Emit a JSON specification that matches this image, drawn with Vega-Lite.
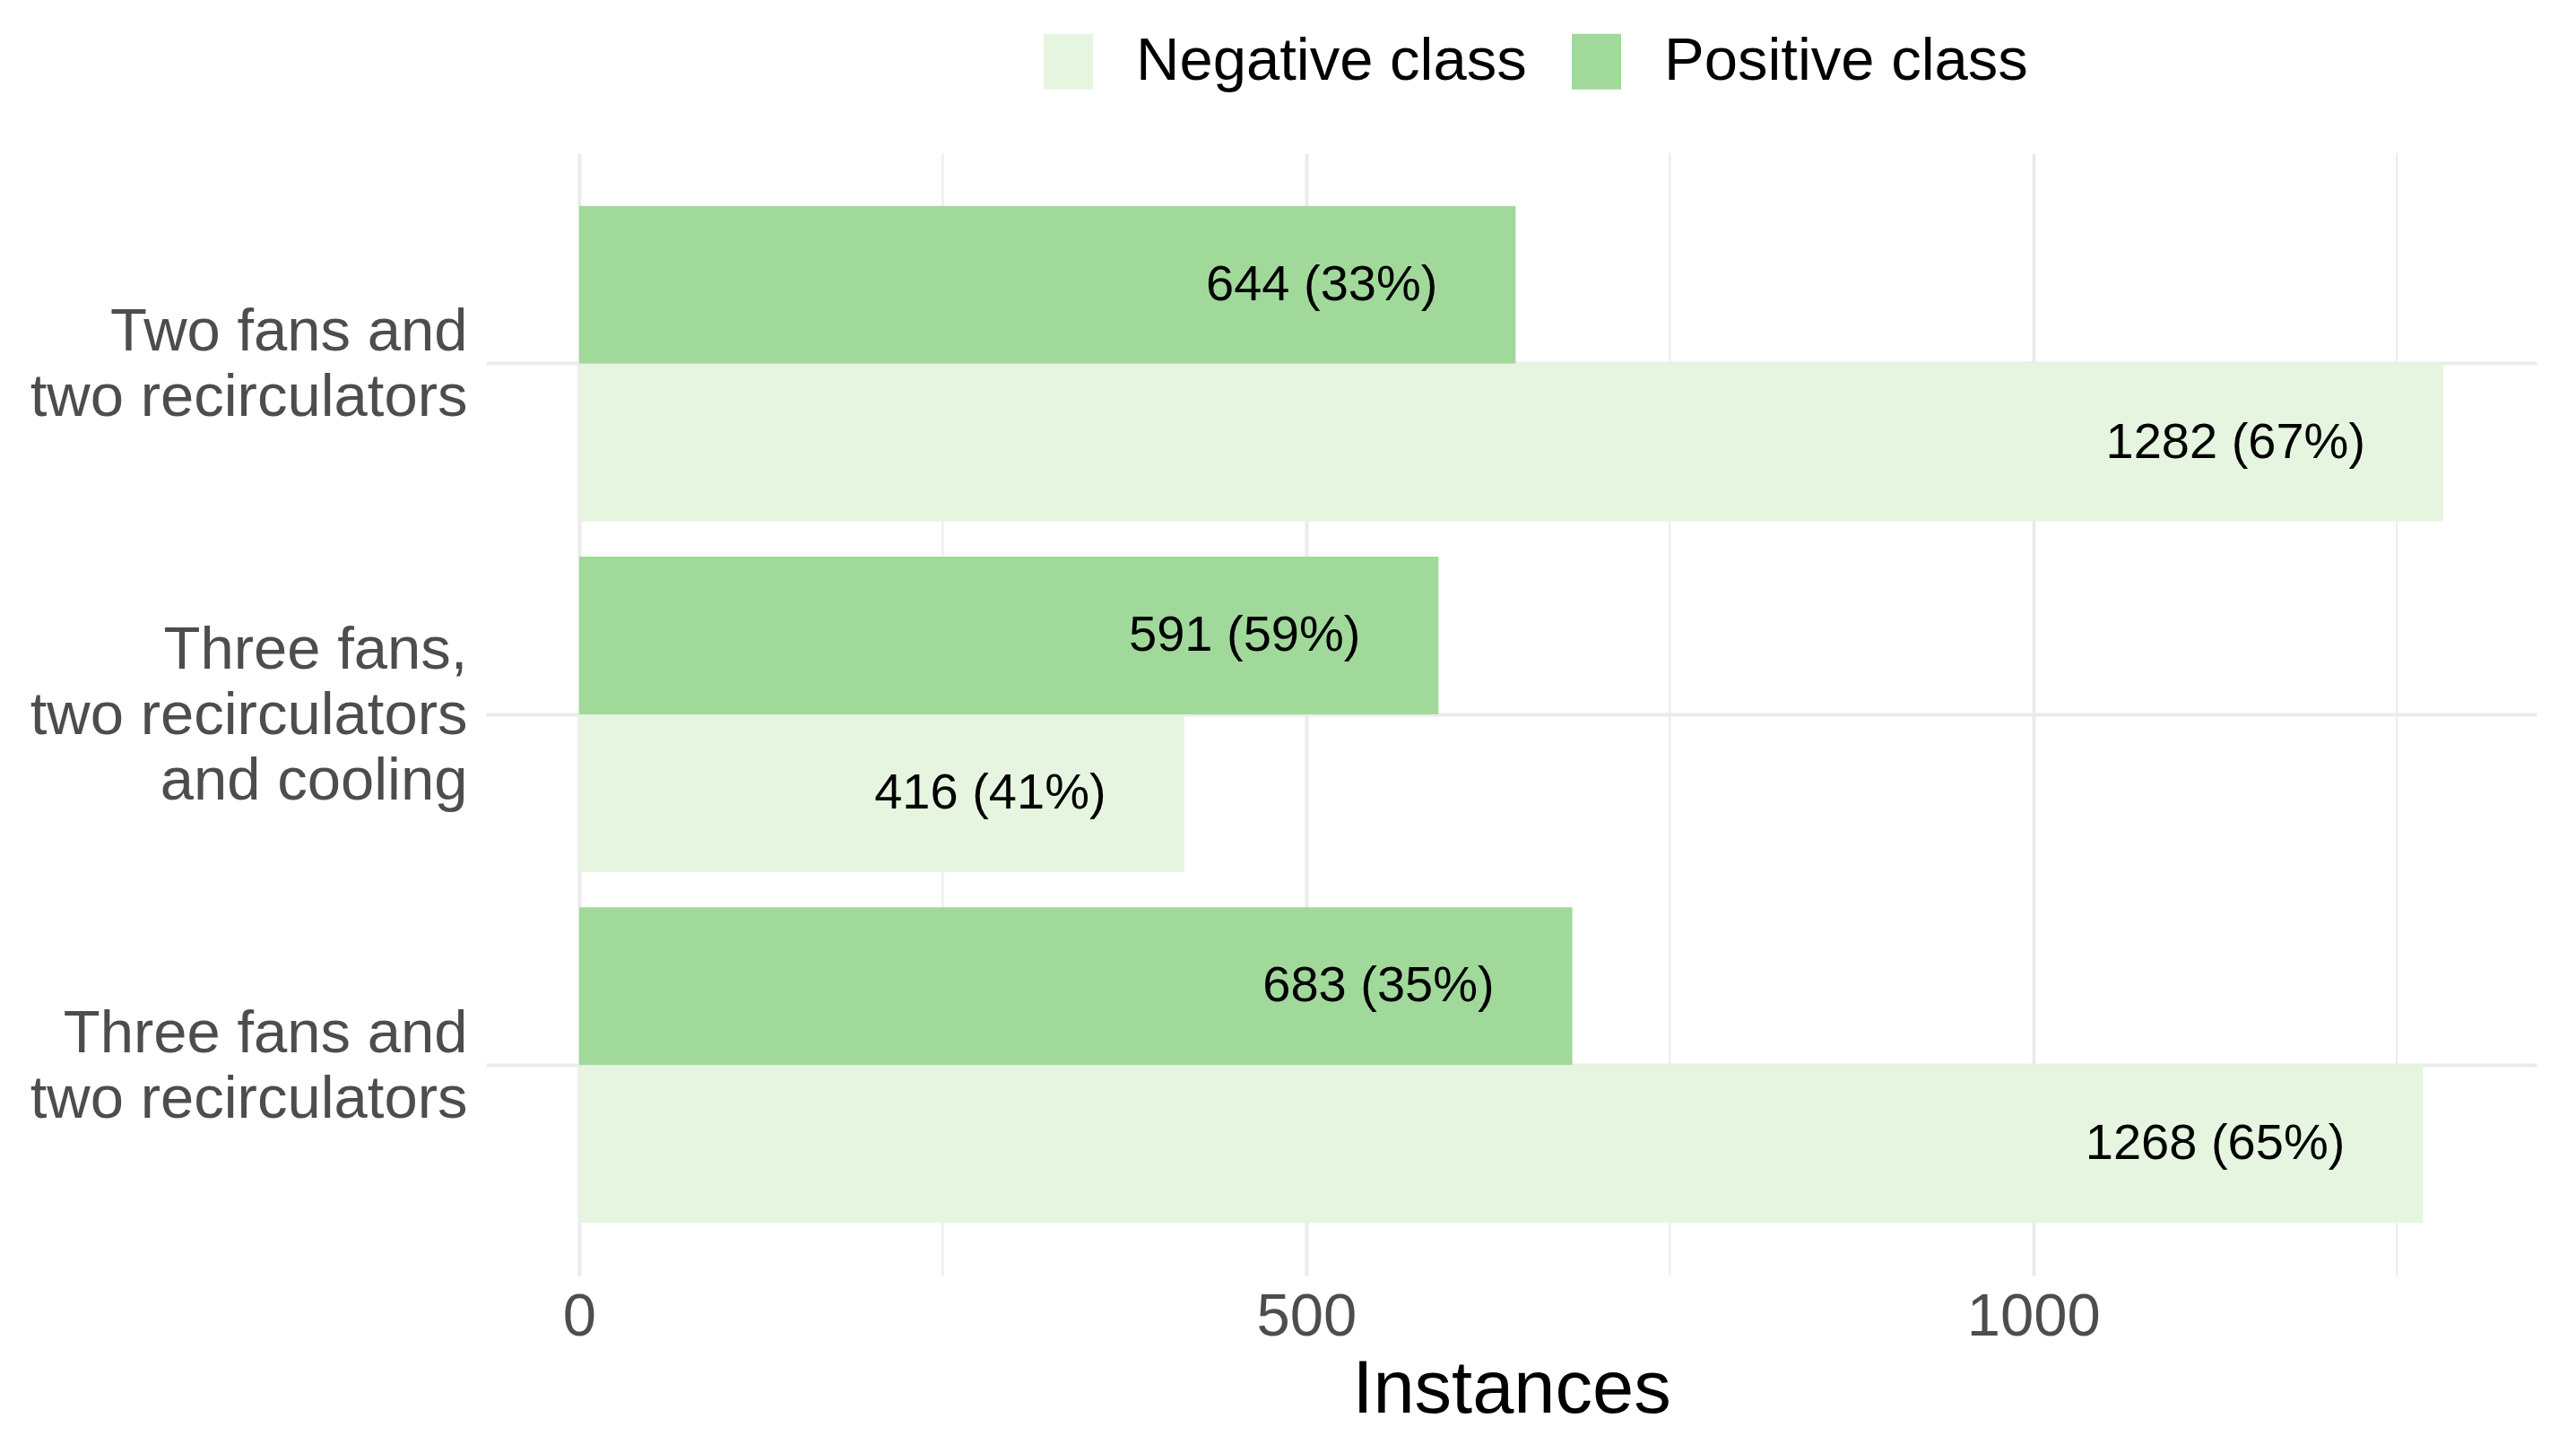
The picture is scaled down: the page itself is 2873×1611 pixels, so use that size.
{
  "$schema": "https://vega.github.io/schema/vega-lite/v6.json",
  "autosize": "none",
  "width": 2287,
  "height": 1252,
  "padding": {"left": 542, "top": 171, "right": 44, "bottom": 188},
  "background": "white",
  "config": {
    "view": {"stroke": null},
    "font": "Liberation Sans",
    "axis": {"labelFont": "Liberation Sans", "titleFont": "Liberation Sans"},
    "legend": {"labelFont": "Liberation Sans"}
  },
  "data": {
    "values": [
      {"group": "Two fans and|two recirculators", "cls": "Positive class", "n": 644, "label": "644 (33%)"},
      {"group": "Two fans and|two recirculators", "cls": "Negative class", "n": 1282, "label": "1282 (67%)"},
      {"group": "Three fans,|two recirculators|and cooling", "cls": "Positive class", "n": 591, "label": "591 (59%)"},
      {"group": "Three fans,|two recirculators|and cooling", "cls": "Negative class", "n": 416, "label": "416 (41%)"},
      {"group": "Three fans and|two recirculators", "cls": "Positive class", "n": 683, "label": "683 (35%)"},
      {"group": "Three fans and|two recirculators", "cls": "Negative class", "n": 1268, "label": "1268 (65%)"}
    ]
  },
  "encoding": {
    "y": {
      "field": "group",
      "type": "nominal",
      "sort": ["Two fans and|two recirculators", "Three fans,|two recirculators|and cooling", "Three fans and|two recirculators"],
      "scale": {"paddingInner": 0.1, "paddingOuter": 0.15},
      "axis": {
        "title": null,
        "domain": false,
        "ticks": false,
        "tickSize": 0,
        "labelPadding": 21,
        "labelFontSize": 67,
        "labelColor": "#4D4D4D",
        "labelLineHeight": 73,
        "labelLimit": 0,
        "labelExpr": "split(datum.label, '|')",
        "labelAlign": "right",
        "labelBaseline": "middle",
        "labelOffset": {"condition": {"test": "indexof(datum.value, 'cooling') >= 0", "value": -71}, "value": -34.5},
        "grid": true,
        "gridColor": "#EBEBEB",
        "gridWidth": 4,
        "bandPosition": 0.5
      }
    },
    "yOffset": {
      "field": "cls",
      "type": "nominal",
      "sort": ["Positive class", "Negative class"],
      "scale": {"paddingInner": 0, "paddingOuter": 0}
    }
  },
  "layer": [
    {
      "mark": {"type": "rule"},
      "data": {"values": [{"v": 250}, {"v": 750}, {"v": 1250}]},
      "encoding": {
        "x": {"field": "v", "type": "quantitative", "scale": {"domain": [-64.1, 1346.1], "nice": false, "zero": false}},
        "y": {"value": 0},
        "y2": {"value": 1252},
        "yOffset": null,
        "color": {"value": "#EBEBEB"},
        "strokeWidth": {"value": 2}
      }
    },
    {
      "mark": {"type": "bar"},
      "encoding": {
        "x": {
          "field": "n",
          "type": "quantitative",
          "scale": {"domain": [-64.1, 1346.1], "nice": false, "zero": false},
          "axis": {
            "title": "Instances",
            "titleFontSize": 83,
            "titleFontWeight": "normal",
            "titleColor": "black",
            "titlePadding": 7,
            "values": [0, 500, 1000],
            "format": "d",
            "domain": false,
            "ticks": false,
            "tickSize": 0,
            "labelPadding": 13,
            "labelFontSize": 67,
            "labelColor": "#4D4D4D",
            "grid": true,
            "gridColor": "#EBEBEB",
            "gridWidth": 4
          }
        },
        "x2": {"datum": 0},
        "color": {
          "field": "cls",
          "type": "nominal",
          "scale": {"domain": ["Negative class", "Positive class"], "range": ["#E5F5E0", "#A1D99B"]},
          "legend": {
            "title": null,
            "orient": "none",
            "direction": "horizontal",
            "legendX": 616,
            "legendY": -136,
            "padding": 0,
            "symbolType": "M-0.887,-1H0.887V1H-0.887Z",
            "symbolSize": 3844,
            "symbolStrokeWidth": 0,
            "labelFontSize": 67,
            "labelLimit": 0,
            "labelColor": "black",
            "labelOffset": 42,
            "columnPadding": 44
          }
        }
      }
    },
    {
      "mark": {"type": "text", "align": "right", "baseline": "middle", "dx": -87, "fontSize": 56, "color": "black"},
      "encoding": {
        "x": {"field": "n", "type": "quantitative"},
        "text": {"field": "label", "type": "nominal"}
      }
    }
  ]
}
